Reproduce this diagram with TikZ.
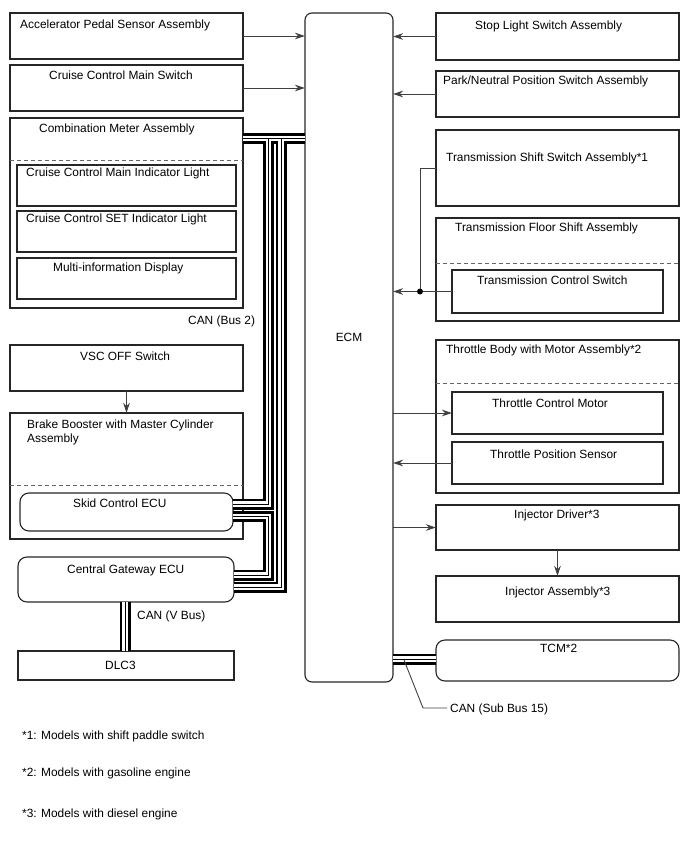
\documentclass[tikz,border=0pt]{standalone}
\usepackage{fontspec}
\setmainfont{Liberation Sans}
\usetikzlibrary{arrows.meta}
\tikzset{
  box/.style={draw=black!85,line width=1.1pt,outer sep=0pt,inner sep=0pt,rectangle},
  rbox/.style={box,rounded corners=9pt},
  ebox/.style={box,rounded corners=7pt},
  lbl/.style={anchor=base west,inner sep=0pt,font=\fontsize{11.9}{14}\selectfont},
  conn/.style={draw=black!75,line width=0.9pt},
  arr/.style={conn,-{Stealth[length=10pt,width=6.5pt]}},
  dsh/.style={draw=black!60,line width=0.8pt,dash pattern=on 4pt off 3pt},
  busA/.style={line width=11pt,black,line join=miter},
  busB/.style={line width=5.5pt,white,line join=miter},
  busC/.style={line width=1pt,black,line join=miter},
}
\newcommand\mkbox[6][box]{\node[#1,minimum width={#5-#3},minimum height={#6-#4}] (#2) at ({(#3+#5)/2},{(#4+#6)/2}) {};}
\newcommand\buses[1]{%
  \draw[#1] (comb.east |- 0,138.5) -- (ecm.west |- 0,138.5);
  \draw[#1] (268.5,138.5) -- (268.5,504) -- (skid.east |- 0,504);
  \draw[#1] (281,138.5) -- (281,587) -- (gw.east |- 0,587);
  \draw[#1] (skid.east |- 0,516.5) -- (268.5,516.5) -- (268.5,575) -- (gw.east |- 0,575);
  \draw[#1] (gw.south -| 125,0) -- (dlc.north -| 125,0);
  \draw[#1] (ecm.east |- 0,659) -- (tcm.west |- 0,659);
}
\begin{document}
\begin{tikzpicture}[x=1pt,y=-1pt]
\useasboundingbox (0,0) rectangle (688,852);
% left column
\mkbox{acc}{10}{13}{243}{59}
\mkbox{ccms}{10}{65}{243}{111}
\mkbox{comb}{10}{118}{243}{308}
\draw[dsh] (comb.west |- 0,160) -- (comb.east |- 0,160);
\mkbox{ind1}{17}{165}{236}{206}
\mkbox{ind2}{17}{211}{236}{252}
\mkbox{mid}{17}{258}{236}{299}
\mkbox{vsc}{10}{345}{243}{391}
\mkbox{brake}{10}{413}{243}{539}
\draw[dsh] (brake.west |- 0,485) -- (brake.east |- 0,485);
\mkbox[rbox]{skid}{20}{493}{233}{531}
\mkbox[rbox]{gw}{18}{557}{234}{602}
\mkbox{dlc}{18}{651}{234}{680}
% ECM
\mkbox[ebox]{ecm}{305}{13}{393}{682}
% right column
\mkbox{stop}{436}{13}{679}{60}
\mkbox{pn}{436}{71}{679}{117}
\mkbox{tss}{436}{130}{679}{206}
\mkbox{tfs}{436}{218}{679}{321}
\draw[dsh] (tfs.west |- 0,263) -- (tfs.east |- 0,263);
\mkbox{tcsw}{452}{270}{663}{313}
\mkbox{tb}{436}{340}{679}{493}
\draw[dsh] (tb.west |- 0,383) -- (tb.east |- 0,383);
\mkbox{tcmot}{452}{392}{663}{434}
\mkbox{tps}{452}{442}{663}{484}
\mkbox{injd}{436}{505}{679}{550}
\mkbox{inja}{436}{576}{679}{622}
\mkbox[rbox]{tcm}{436}{640}{679}{681}
% CAN buses
\buses{busA}
\buses{busB}
\buses{busC}
% texts
\node[lbl] (tacc) at (20,28) {Accelerator Pedal Sensor Assembly};
\node[lbl] (tccms) at (49,79) {Cruise Control Main Switch};
\node[lbl] (tcomb) at (39,132) {Combination Meter Assembly};
\node[lbl] (tind1) at (26,176) {Cruise Control Main Indicator Light};
\node[lbl] (tind2) at (26,222) {Cruise Control SET Indicator Light};
\node[lbl] (tmid) at (53,271) {Multi-information Display};
\node[lbl] (tcan2) at (188,324) {CAN (Bus 2)};
\node[lbl] (tvsc) at (80,360) {VSC OFF Switch};
\node[lbl] (tbrake1) at (27,428) {Brake Booster with Master Cylinder};
\node[lbl] (tbrake2) at (27,442) {Assembly};
\node[lbl] (tskid) at (73,507) {Skid Control ECU};
\node[lbl] (tgw) at (67,573) {Central Gateway ECU};
\node[lbl] (tcanv) at (137,619) {CAN (V Bus)};
\node[lbl] (tdlc) at (105,669) {DLC3};
\node[lbl,anchor=base] (tecm) at (349,341) {ECM};
\node[lbl] (tstop) at (475,29) {Stop Light Switch Assembly};
\node[lbl] (tpn) at (443,84) {Park/Neutral Position Switch Assembly};
\node[lbl] (ttss) at (446,161) {Transmission Shift Switch Assembly*1};
\node[lbl] (ttfs) at (455,231) {Transmission Floor Shift Assembly};
\node[lbl] (ttcsw) at (477,284) {Transmission Control Switch};
\node[lbl] (ttb) at (446,353) {Throttle Body with Motor Assembly*2};
\node[lbl] (ttcmot) at (492,407) {Throttle Control Motor};
\node[lbl] (ttps) at (490,458) {Throttle Position Sensor};
\node[lbl] (tinjd) at (514,518) {Injector Driver*3};
\node[lbl] (tinja) at (505,595) {Injector Assembly*3};
\node[lbl] (ttcm) at (540,652) {TCM*2};
\node[lbl] (tcansub) at (450,712) {CAN (Sub Bus 15)};
\node[lbl] (f1) at (22,739) {*1: Models with shift paddle switch};
\node[lbl] (f2) at (22,776) {*2: Models with gasoline engine};
\node[lbl] (f3) at (22,817) {*3: Models with diesel engine};
% connectors
\draw[arr] (acc.east) -- (acc.east -| ecm.west);
\draw[arr] (ccms.east) -- (ccms.east -| ecm.west);
\draw[arr] (stop.west) -- (stop.west -| ecm.east);
\draw[arr] (pn.west) -- (pn.west -| ecm.east);
\coordinate (jn) at (420,291.5);
\draw[conn] (tss.west) -| (jn);
\draw[arr] (tcsw.west) -- (tcsw.west -| ecm.east);
\fill[black] (jn) circle (3pt);
\draw[arr] (tcmot.west -| ecm.east) -- (tcmot.west);
\draw[arr] (tps.west) -- (tps.west -| ecm.east);
\draw[arr] (injd.west -| ecm.east) -- (injd.west);
\draw[arr] (injd.south) -- (inja.north);
\draw[arr] (vsc.south) -- (brake.north);
\coordinate (lead) at (447,708);
\draw[conn] (404,660) -- (423,708) -- (lead);
\end{tikzpicture}
\end{document}
